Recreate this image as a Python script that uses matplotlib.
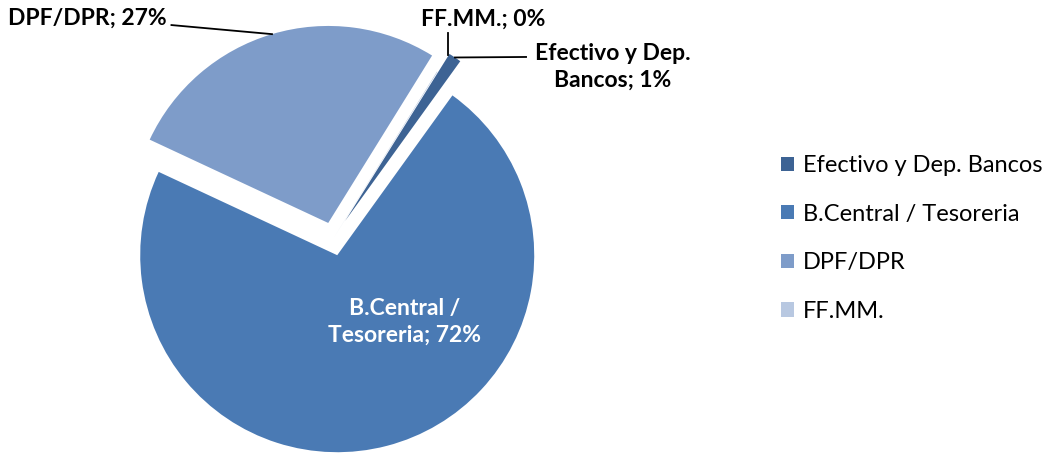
import numpy as np
from matplotlib import pyplot as plt

# data
categories = ['Efectivo y Dep. Bancos', 'B.Central / Tesoreria', 'DPF/DPR', 'FF.MM.']
values = [1.05, 71.9, 26.85, 0.05]
label_names = ['Efectivo y Dep.\nBancos', 'B.Central /\nTesoreria', 'DPF/DPR', 'FF.MM.']

colors = ['#3D6394', '#4A7AB4', '#7E9CC9', '#B8C8E1']
explode = [0.11, 0.085, 0.085, 0.0]

plt.rcParams['font.family'] = ['Lato', 'DejaVu Sans']

fig = plt.figure(figsize=(10.52, 4.55), dpi=100)
# pie radius 1 -> 197 px, centre at (333, 239) px from top-left
R = 197.0
L = 1.25
side = 2 * L * R
cx, cy = 333.0, 455.0 - 239.0
ax = fig.add_axes([(cx - side / 2) / 1052, (cy - side / 2) / 455, side / 1052, side / 455])
ax.set_xlim(-L, L)
ax.set_ylim(-L, L)
ax.axis('off')

wedges, _ = ax.pie(values, colors=colors, explode=explode, startangle=58,
                   counterclock=False, radius=1.0)
for w in wedges:
    w.set_clip_on(False)

total = sum(values)
pct = [f"{round(v / total * 100)}%" for v in values]
texts = [f"{n}; {p}" for n, p in zip(label_names, pct)]


def edge_point(i, r=1.0):
    w = wedges[i]
    a = np.deg2rad((w.theta1 + w.theta2) / 2)
    x0, y0 = w.center
    return x0 + r * np.cos(a), y0 + r * np.sin(a)


lab_kw = dict(fontsize=16.5, fontweight='bold', color='black')

# DPF/DPR
x, y = edge_point(2)
ax.plot([x, -0.82], [y, 1.086], color='black', lw=1.3, clip_on=False)
ax.text(-0.845, 1.12, texts[2], ha='right', va='center', **lab_kw)

# FF.MM.
x, y = edge_point(3, 1.1)
ax.plot([x, x], [y, 1.045], color='black', lw=1.3, clip_on=False)
ax.text(0.76, 1.117, texts[3], ha='center', va='center', **lab_kw)

# Efectivo
x, y = edge_point(0)
ax.plot([x, 0.98], [y, 0.924], color='black', lw=1.3, clip_on=False)
ax.text(1.42, 0.873, texts[0], ha='center', va='center', linespacing=1.35, **lab_kw)

# B.Central (inside)
ax.text(0.365, -0.421, texts[1], ha='center', va='center', linespacing=1.35,
        fontsize=16.5, fontweight='bold', color='white')

fig.legend(wedges, categories, loc='center left', bbox_to_anchor=(0.742, 0.476),
           frameon=False, fontsize=17, handlelength=0.55, handleheight=0.55,
           handletextpad=0.4, labelspacing=1.17, borderpad=0, borderaxespad=0)

plt.savefig('out.png', dpi=100)
